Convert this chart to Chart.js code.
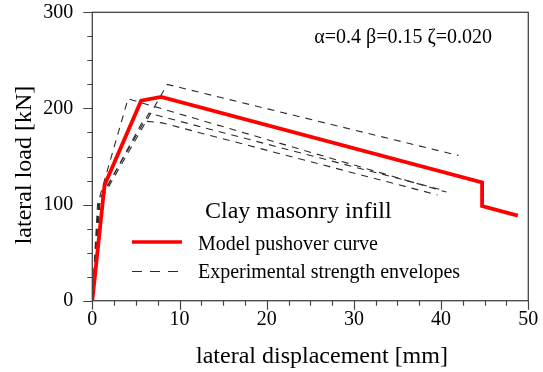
<!DOCTYPE html>
<html>
<head>
<meta charset="utf-8">
<script src="https://cdn.jsdelivr.net/npm/chart.js@4/dist/chart.umd.min.js"></script>
<style>
  html, body { margin: 0; padding: 0; background: #fff; }
  #wrap { width: 543px; height: 372px; }
</style>
</head>
<body>
<div id="wrap"><canvas id="c" width="543" height="372"></canvas></div>
<script>
// Model pushover curve (displacement in mm, load in kN)
const modelDisp = [0, 1.4, 5.6, 7.9, 44.7, 44.7, 48.8];
const modelLoad = [0, 120, 208, 212, 123, 98.5, 88.5];

// Experimental strength envelopes
const expADisp = [0, 0.7, 8.6, 42.0];
const expALoad = [0, 100, 225, 151];
const expBDisp = [0, 0.6, 4.1, 40.6];
const expBLoad = [0, 100, 210, 113];
const expCDisp = [0, 0.8, 6.5, 40.2];
const expCLoad = [0, 105, 195, 115];
const expDDisp = [0, 0.9, 5.8, 8.0, 39.6];
const expDLoad = [0, 105, 187, 185, 110];

// Axis tick labels
const xTickLabels = [0, 10, 20, 30, 40, 50];
const yTickLabels = [0, 100, 200, 300];

const legendTitle = 'Clay masonry infill';
const modelLabel = 'Model pushover curve';
const expLabel = 'Experimental strength envelopes';
const paramText = 'α=0.4 β=0.15 ζ=0.020';
const xTitle = 'lateral displacement [mm]';
const yTitle = 'lateral load [kN]';

const FONT = '"Liberation Serif", "Times New Roman", serif';
const AXIS_COLOR = '#444';

function pts(xs, ys) { return xs.map((x, i) => ({ x: x, y: ys[i] })); }

function dashedSet(label, xs, ys) {
  return {
    label: label,
    data: pts(xs, ys),
    borderColor: '#2a2a2a',
    borderWidth: 1.1,
    borderDash: [7, 6],
    pointRadius: 0,
    showLine: true,
    fill: false,
    tension: 0
  };
}

const datasets = [
  {
    label: modelLabel,
    data: pts(modelDisp, modelLoad),
    borderColor: '#ff0000',
    borderWidth: 3.8,
    pointRadius: 0,
    showLine: true,
    fill: false,
    tension: 0,
    borderJoinStyle: 'miter'
  },
  dashedSet(expLabel, expADisp, expALoad),
  dashedSet(expLabel, expBDisp, expBLoad),
  dashedSet(expLabel, expCDisp, expCLoad),
  dashedSet(expLabel, expDDisp, expDLoad)
];

// Frame, tick marks, axis titles, annotation and legend
const decorations = {
  id: 'decorations',
  afterDraw(chart) {
    const ctx = chart.ctx;
    const a = chart.chartArea;
    const xs = chart.scales.x, ys = chart.scales.y;
    ctx.save();
    ctx.strokeStyle = AXIS_COLOR;
    ctx.lineWidth = 1.3;
    ctx.strokeRect(a.left, a.top, a.right - a.left, a.bottom - a.top);

    ctx.lineWidth = 1.2;
    ctx.beginPath();
    xs.ticks.forEach(t => {
      const px = Math.round(xs.getPixelForValue(t.value)) + 0.5;
      const len = xTickLabels.includes(t.value) ? 9 : 5;
      ctx.moveTo(px, a.bottom);
      ctx.lineTo(px, a.bottom + len);
    });
    ys.ticks.forEach(t => {
      const py = Math.round(ys.getPixelForValue(t.value)) + 0.5;
      const len = yTickLabels.includes(t.value) ? 9 : 5;
      ctx.moveTo(a.left, py);
      ctx.lineTo(a.left - len, py);
    });
    ctx.stroke();

    ctx.fillStyle = '#000';
    ctx.textBaseline = 'alphabetic';

    // x axis title
    ctx.font = '24px ' + FONT;
    ctx.textAlign = 'center';
    ctx.fillText(xTitle, 322, 363);

    // y axis title
    ctx.save();
    ctx.translate(31, 165);
    ctx.rotate(-Math.PI / 2);
    ctx.fillText(yTitle, 0, 0);
    ctx.restore();

    // parameter annotation
    ctx.font = '20px ' + FONT;
    ctx.textAlign = 'right';
    ctx.fillText(paramText, 492, 43);

    // legend
    ctx.font = '24px ' + FONT;
    ctx.textAlign = 'left';
    ctx.fillText(legendTitle, 205, 218);

    const m = chart.data.datasets[0];
    const e = chart.data.datasets[1];
    ctx.strokeStyle = m.borderColor;
    ctx.lineWidth = 3.5;
    ctx.beginPath();
    ctx.moveTo(132, 242);
    ctx.lineTo(182, 242);
    ctx.stroke();

    ctx.strokeStyle = e.borderColor;
    ctx.lineWidth = 1.2;
    ctx.setLineDash([10, 8]);
    ctx.beginPath();
    ctx.moveTo(132, 271.5);
    ctx.lineTo(182, 271.5);
    ctx.stroke();
    ctx.setLineDash([]);

    ctx.font = '20px ' + FONT;
    ctx.fillText(m.label, 198, 249.5);
    ctx.fillText(e.label, 198, 278);
    ctx.restore();
  }
};

new Chart(document.getElementById('c'), {
  type: 'scatter',
  data: { datasets: datasets },
  options: {
    responsive: false,
    animation: false,
    devicePixelRatio: 1,
    layout: { padding: { left: 0, top: 12.3, right: 14.7, bottom: 0 } },
    plugins: {
      legend: { display: false },
      tooltip: { enabled: false }
    },
    scales: {
      x: {
        type: 'linear',
        min: 0, max: 50,
        afterFit(s) { s.height = 71.3; s.paddingLeft = 0; s.paddingRight = 0; },
        border: { display: false },
        grid: { display: true, drawOnChartArea: false, drawTicks: false, color: 'rgba(0,0,0,0)' },
        ticks: {
          stepSize: 2.5,
          autoSkip: false,
          maxRotation: 0,
          padding: 7,
          color: '#000',
          font: { family: FONT, size: 20 },
          callback: v => xTickLabels.includes(v) ? String(v) : ''
        }
      },
      y: {
        type: 'linear',
        min: 0, max: 300,
        afterFit(s) { s.width = 92.3; s.paddingTop = 0; s.paddingBottom = 0; },
        border: { display: false },
        grid: { display: true, drawOnChartArea: false, drawTicks: false, color: 'rgba(0,0,0,0)' },
        ticks: {
          stepSize: 25,
          autoSkip: false,
          padding: 19,
          color: '#000',
          font: { family: FONT, size: 20 },
          callback: v => yTickLabels.includes(v) ? String(v) : ''
        }
      }
    }
  },
  plugins: [decorations]
});
</script>
</body>
</html>
